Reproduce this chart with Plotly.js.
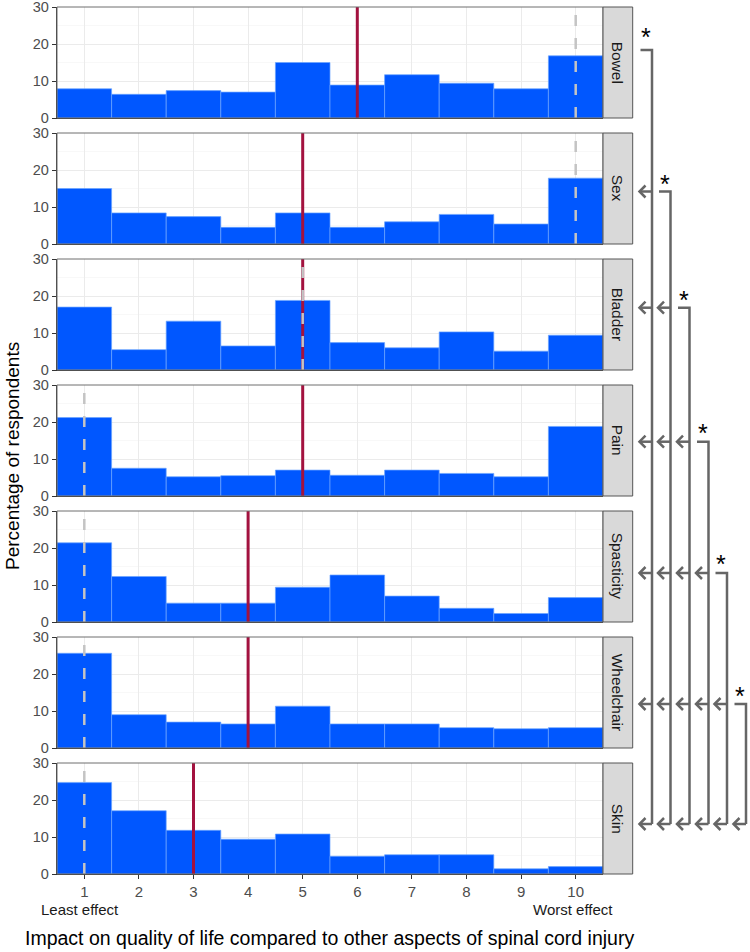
<!DOCTYPE html>
<html>
<head>
<meta charset="utf-8">
<script src="https://cdn.plot.ly/plotly-3.0.1.min.js"></script>
<style>html,body{margin:0;padding:0;background:#fff;}#chart{width:750px;height:952px;}</style>
</head>
<body>
<div id="chart"></div>
<script>
// ---------------- data ----------------
const categories = ['Bowel', 'Sex', 'Bladder', 'Pain', 'Spasticity', 'Wheelchair', 'Skin'];
const scores = [1, 2, 3, 4, 5, 6, 7, 8, 9, 10];
const bowel      = [7.9, 6.4, 7.4, 7.0, 15.0, 8.9, 11.7, 9.4, 7.9, 16.8];
const sex        = [15.0, 8.4, 7.4, 4.5, 8.4, 4.5, 6.0, 8.0, 5.4, 17.8];
const bladder    = [17.0, 5.5, 13.2, 6.5, 18.8, 7.4, 6.0, 10.3, 5.1, 9.4];
const pain       = [21.2, 7.5, 5.2, 5.5, 7.0, 5.6, 7.0, 6.1, 5.2, 18.8];
const spasticity = [21.4, 12.3, 5.1, 5.1, 9.4, 12.7, 7.0, 3.7, 2.3, 6.6];
const wheelchair = [25.6, 9.0, 7.0, 6.5, 11.3, 6.5, 6.5, 5.5, 5.2, 5.5];
const skin       = [24.7, 17.1, 11.8, 9.4, 10.8, 4.8, 5.2, 5.2, 1.4, 2.0];
const medians = [6, 5, 5, 5, 4, 4, 3];
const modes   = [10, 10, 5, 1, 1, 1, 1];
const yTicks = [0, 10, 20, 30];
const xLabelLeft = 'Least effect';
const xLabelRight = 'Worst effect';
const xTitle = 'Impact on quality of life compared to other aspects of spinal cord injury';
const yTitle = 'Percentage of respondents';
// significance brackets: each aspect (except the last) vs all aspects below it
const significant = [true, true, true, true, true, true];

const series = [bowel, sex, bladder, pain, spasticity, wheelchair, skin];

// ---------------- layout helpers (pixel geometry) ----------------
const W = 750, H = 952;
const px = x => x / W;
const py = y => 1 - y / H;
const plotL = 57, plotR = 603, stripR = 632.7;
const topFirst = 7, pitch = 126, panelH = 111;

const BLUE = '#0057FF';
const RED = '#A3123F';
const GREY_DASH = '#C4C4C4';
const BR = '#666666';
const FONT = 'Liberation Sans, Arial, Helvetica, sans-serif';

const traces = [];
const layout = {
  width: W, height: H,
  margin: {l: 0, r: 0, t: 0, b: 0},
  paper_bgcolor: '#fff', plot_bgcolor: '#fff',
  showlegend: false,
  bargap: 0,
  font: {family: FONT, size: 14, color: '#4D4D4D'},
  shapes: [], annotations: []
};

const n = categories.length;
for (let i = 0; i < n; i++) {
  const k = i + 1;
  const xa = 'x' + (k === 1 ? '' : k), ya = 'y' + (k === 1 ? '' : k);
  const top = topFirst + pitch * i, bot = top + panelH;
  const last = i === n - 1;
  layout['xaxis' + (k === 1 ? '' : k)] = {
    domain: [px(plotL), px(plotR)], anchor: ya, range: [0.5, 10.5], fixedrange: true,
    tickvals: scores, showticklabels: last, ticks: last ? 'outside' : '', ticklen: 4, tickcolor: '#333',
    tickfont: {size: 15, color: '#4D4D4D'},
    showgrid: true, gridcolor: '#EBEBEB', gridwidth: 1, zeroline: false,
    showline: true, linecolor: '#333', linewidth: 1.2
  };
  layout['yaxis' + (k === 1 ? '' : k)] = {
    domain: [py(bot), py(top)], anchor: xa, range: [0, 30], fixedrange: true,
    tickvals: yTicks, ticks: 'outside', ticklen: 4, tickcolor: '#333',
    tickfont: {size: 14.5, color: '#4D4D4D'}, ticklabeloverflow: 'allow',
    showgrid: true, gridcolor: '#EBEBEB', gridwidth: 1, zeroline: false,
    minor: {dtick: 5, tick0: 0, showgrid: true, gridcolor: '#F4F4F4', gridwidth: 0.6, ticks: ''},
    showline: true, linecolor: '#333', linewidth: 1.2
  };
  traces.push({
    type: 'bar', x: scores, y: series[i], xaxis: xa, yaxis: ya, width: 1,
    marker: {color: BLUE, line: {color: '#6AA5FF', width: 0.7}}, hoverinfo: 'skip'
  });
  traces.push({
    type: 'scatter', mode: 'lines', x: [medians[i], medians[i]], y: [0, 30], xaxis: xa, yaxis: ya,
    line: {color: RED, width: 3}, hoverinfo: 'skip'
  });
  traces.push({
    type: 'scatter', mode: 'lines', x: [modes[i], modes[i]], y: [0, 30], xaxis: xa, yaxis: ya,
    line: {color: GREY_DASH, width: 2.5, dash: '11px,12px'}, hoverinfo: 'skip'
  });
  // panel border
  layout.shapes.push({type: 'rect', xref: 'paper', yref: 'paper', x0: px(plotL), x1: px(plotR), y0: py(bot), y1: py(top),
    line: {color: '#6E6E6E', width: 1}, fillcolor: 'rgba(0,0,0,0)', layer: 'above'});
  // strip
  layout.shapes.push({type: 'rect', xref: 'paper', yref: 'paper', x0: px(plotR), x1: px(stripR), y0: py(bot), y1: py(top),
    line: {color: '#555', width: 1}, fillcolor: '#D9D9D9', layer: 'above'});
  layout.annotations.push({xref: 'paper', yref: 'paper', x: px((plotR + stripR) / 2), y: py((top + bot) / 2),
    text: categories[i], textangle: 90, showarrow: false, font: {family: FONT, size: 15.5, color: '#1A1A1A'},
    xanchor: 'center', yanchor: 'middle'});
}

// axis titles and end labels
layout.annotations.push({xref: 'paper', yref: 'paper', x: px(80), y: py(909), text: xLabelLeft, showarrow: false,
  font: {family: FONT, size: 15, color: '#1A1A1A'}, xanchor: 'center', yanchor: 'middle'});
layout.annotations.push({xref: 'paper', yref: 'paper', x: px(573), y: py(909), text: xLabelRight, showarrow: false,
  font: {family: FONT, size: 15, color: '#1A1A1A'}, xanchor: 'center', yanchor: 'middle'});
layout.annotations.push({xref: 'paper', yref: 'paper', x: px(329), y: py(938), text: xTitle, showarrow: false,
  font: {family: FONT, size: 19.5, color: '#000'}, xanchor: 'center', yanchor: 'middle'});
layout.annotations.push({xref: 'paper', yref: 'paper', x: px(12), y: py(456), text: yTitle, showarrow: false, textangle: -90,
  font: {family: FONT, size: 19, color: '#000'}, xanchor: 'center', yanchor: 'middle'});

// brackets (layout geometry in pixels)
const bracketX = [652, 670.5, 689.5, 708.5, 727, 746];
const levelY = [50, 191.5, 307.7, 441.7, 573, 704, 824];
const starDy = [-13, -7, -8, -9, -9, -8];
const lineStyle = {color: BR, width: 2.5};
const path = pts => 'M ' + pts.map(p => px(p[0]) + ',' + py(p[1])).join(' L ');
for (let j = 0; j < n - 1; j++) {
  if (!significant[j]) continue;
  const xv = bracketX[j];
  layout.shapes.push({type: 'path', xref: 'paper', yref: 'paper', line: lineStyle,
    path: path([[xv - 11.5, levelY[j]], [xv, levelY[j]], [xv, levelY[n - 1]]])});
  layout.annotations.push({xref: 'paper', yref: 'paper', x: px(xv - 6), y: py(levelY[j] + starDy[j]), text: '*', showarrow: false,
    font: {family: FONT, size: 25, color: '#000'}, xanchor: 'center', yanchor: 'middle'});
  for (let k = j + 1; k < n; k++) {
    const y = levelY[k], tip = xv - 12.5;
    layout.shapes.push({type: 'path', xref: 'paper', yref: 'paper', line: lineStyle,
      path: path([[xv, y], [tip, y]])});
    layout.shapes.push({type: 'path', xref: 'paper', yref: 'paper', line: lineStyle,
      path: path([[tip + 6, y - 6], [tip, y], [tip + 6, y + 6]])});
  }
}

Plotly.newPlot('chart', traces, layout, {staticPlot: true, displayModeBar: false});
</script>
</body>
</html>
